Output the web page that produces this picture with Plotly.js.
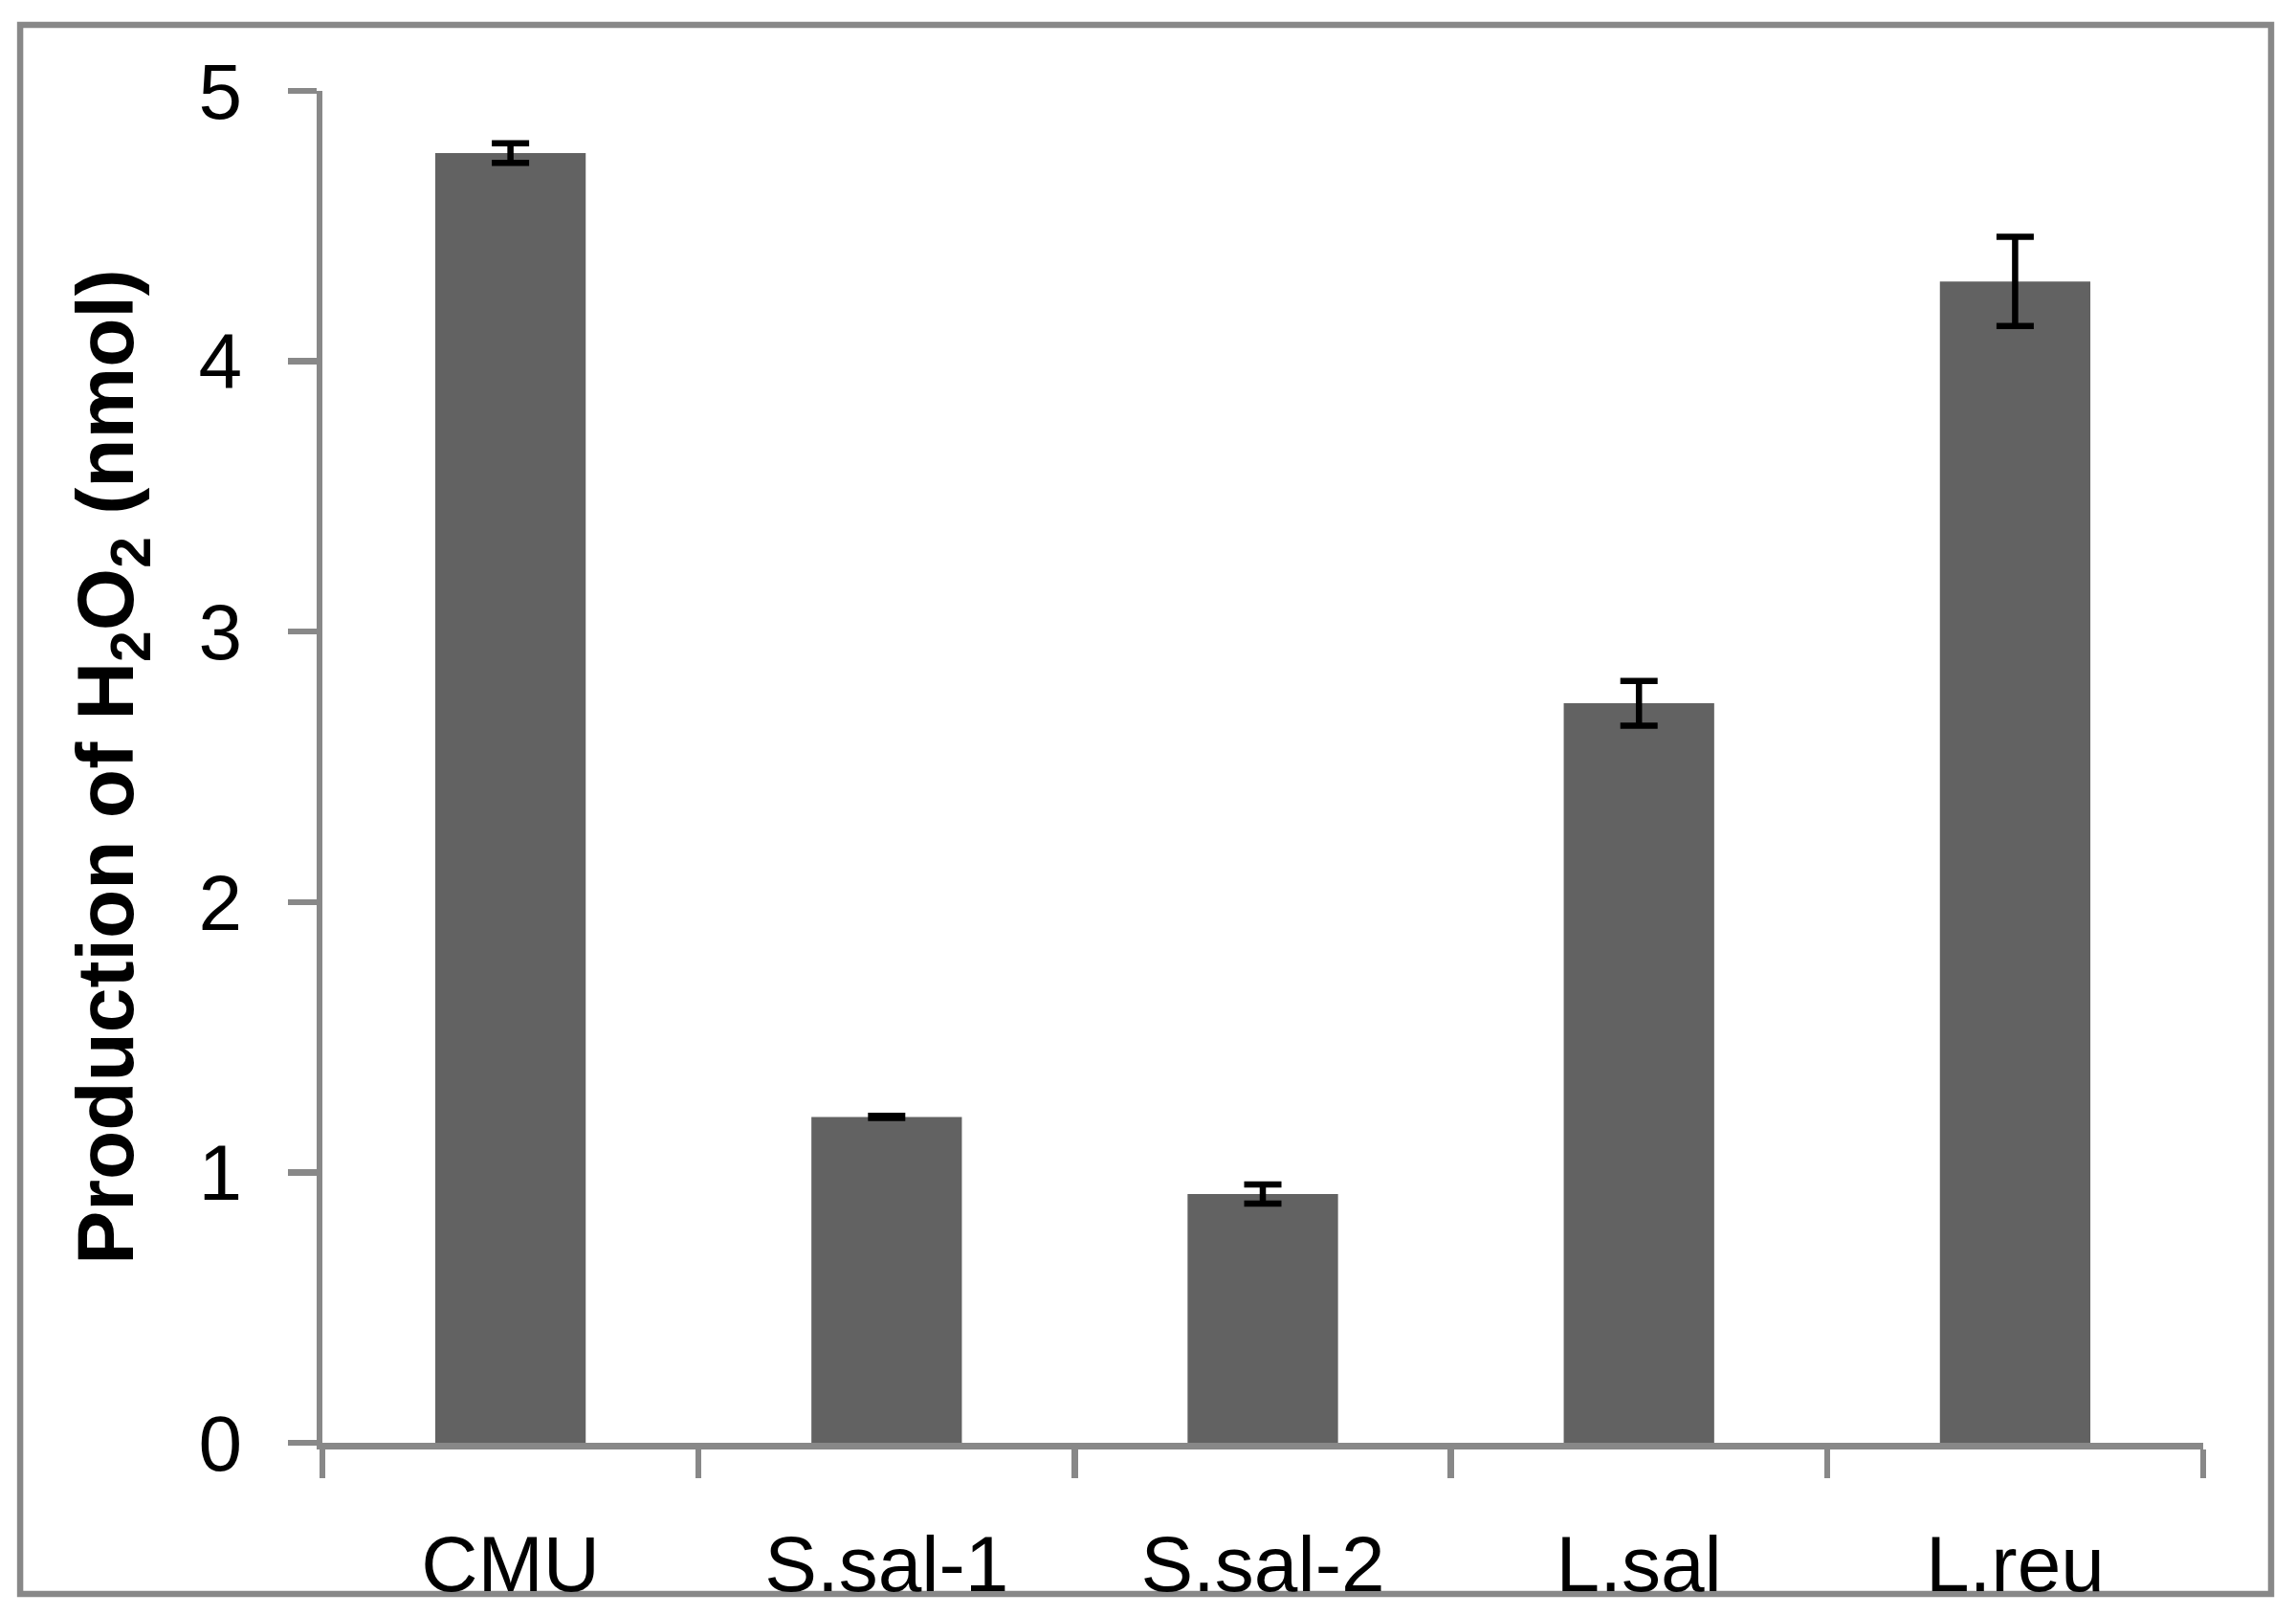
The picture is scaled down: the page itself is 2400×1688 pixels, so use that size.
<!DOCTYPE html>
<html>
<head>
<meta charset="utf-8">
<script src="https://cdn.plot.ly/plotly-3.0.1.min.js"></script>
<style>
  html, body { margin: 0; padding: 0; background: #ffffff; }
  #chart { width: 2400px; height: 1688px; }
</style>
</head>
<body>
<div id="chart"></div>
<script>
const categories = ["CMU", "S.sal-1", "S.sal-2", "L.sal", "L.reu"];
const values = [4.77, 1.205, 0.92, 2.735, 4.295];
const errors = [0.036, 0.004, 0.035, 0.083, 0.165];
const yTickValues = [0, 1, 2, 3, 4, 5];

const trace = {
  type: "bar",
  x: categories,
  y: values,
  marker: { color: "#626262", line: { width: 0 } },
  error_y: { type: "data", array: errors, visible: true, color: "#000000", thickness: 6.5, width: 19.5 },
  hoverinfo: "none"
};

const axisGray = "#888888";
const fontFam = "'Liberation Sans', Arial, sans-serif";

const layout = {
  width: 2400,
  height: 1688,
  margin: { l: 337, r: 97, t: 95, b: 180 },
  paper_bgcolor: "#ffffff",
  plot_bgcolor: "#ffffff",
  showlegend: false,
  bargap: 0.6,
  font: { family: fontFam, color: "#000000", size: 82 },
  xaxis: {
    type: "category",
    range: [-0.5, 4.5],
    showline: true, linecolor: axisGray, linewidth: 6.5,
    ticks: "outside", tickson: "boundaries", ticklen: 30, tickwidth: 6.5, tickcolor: axisGray,
    showgrid: false, zeroline: false,
    tickfont: { family: fontFam, size: 82, color: "#000000" },
    ticklabelstandoff: 50
  },
  yaxis: {
    range: [0, 5],
    tickvals: yTickValues,
    showline: true, linecolor: axisGray, linewidth: 6.5,
    ticks: "outside", ticklen: 30, tickwidth: 6.5, tickcolor: axisGray,
    showgrid: false, zeroline: false,
    tickfont: { family: fontFam, size: 82, color: "#000000" },
    ticklabelstandoff: 31,
    title: {
      text: "<b>Production of H<sub>2</sub>O<sub>2</sub> (nmol)</b>",
      font: { family: fontFam, size: 84, color: "#000000" },
      standoff: 42
    }
  },
  shapes: [{
    type: "rect", xref: "paper", yref: "paper",
    x0: -0.1607, x1: 1.0361, y0: -0.1118, y1: 1.0488,
    line: { color: axisGray, width: 6.5 }, fillcolor: "rgba(0,0,0,0)", layer: "below"
  }]
};

Plotly.newPlot("chart", [trace], layout, { staticPlot: true, displayModeBar: false });
</script>
</body>
</html>
